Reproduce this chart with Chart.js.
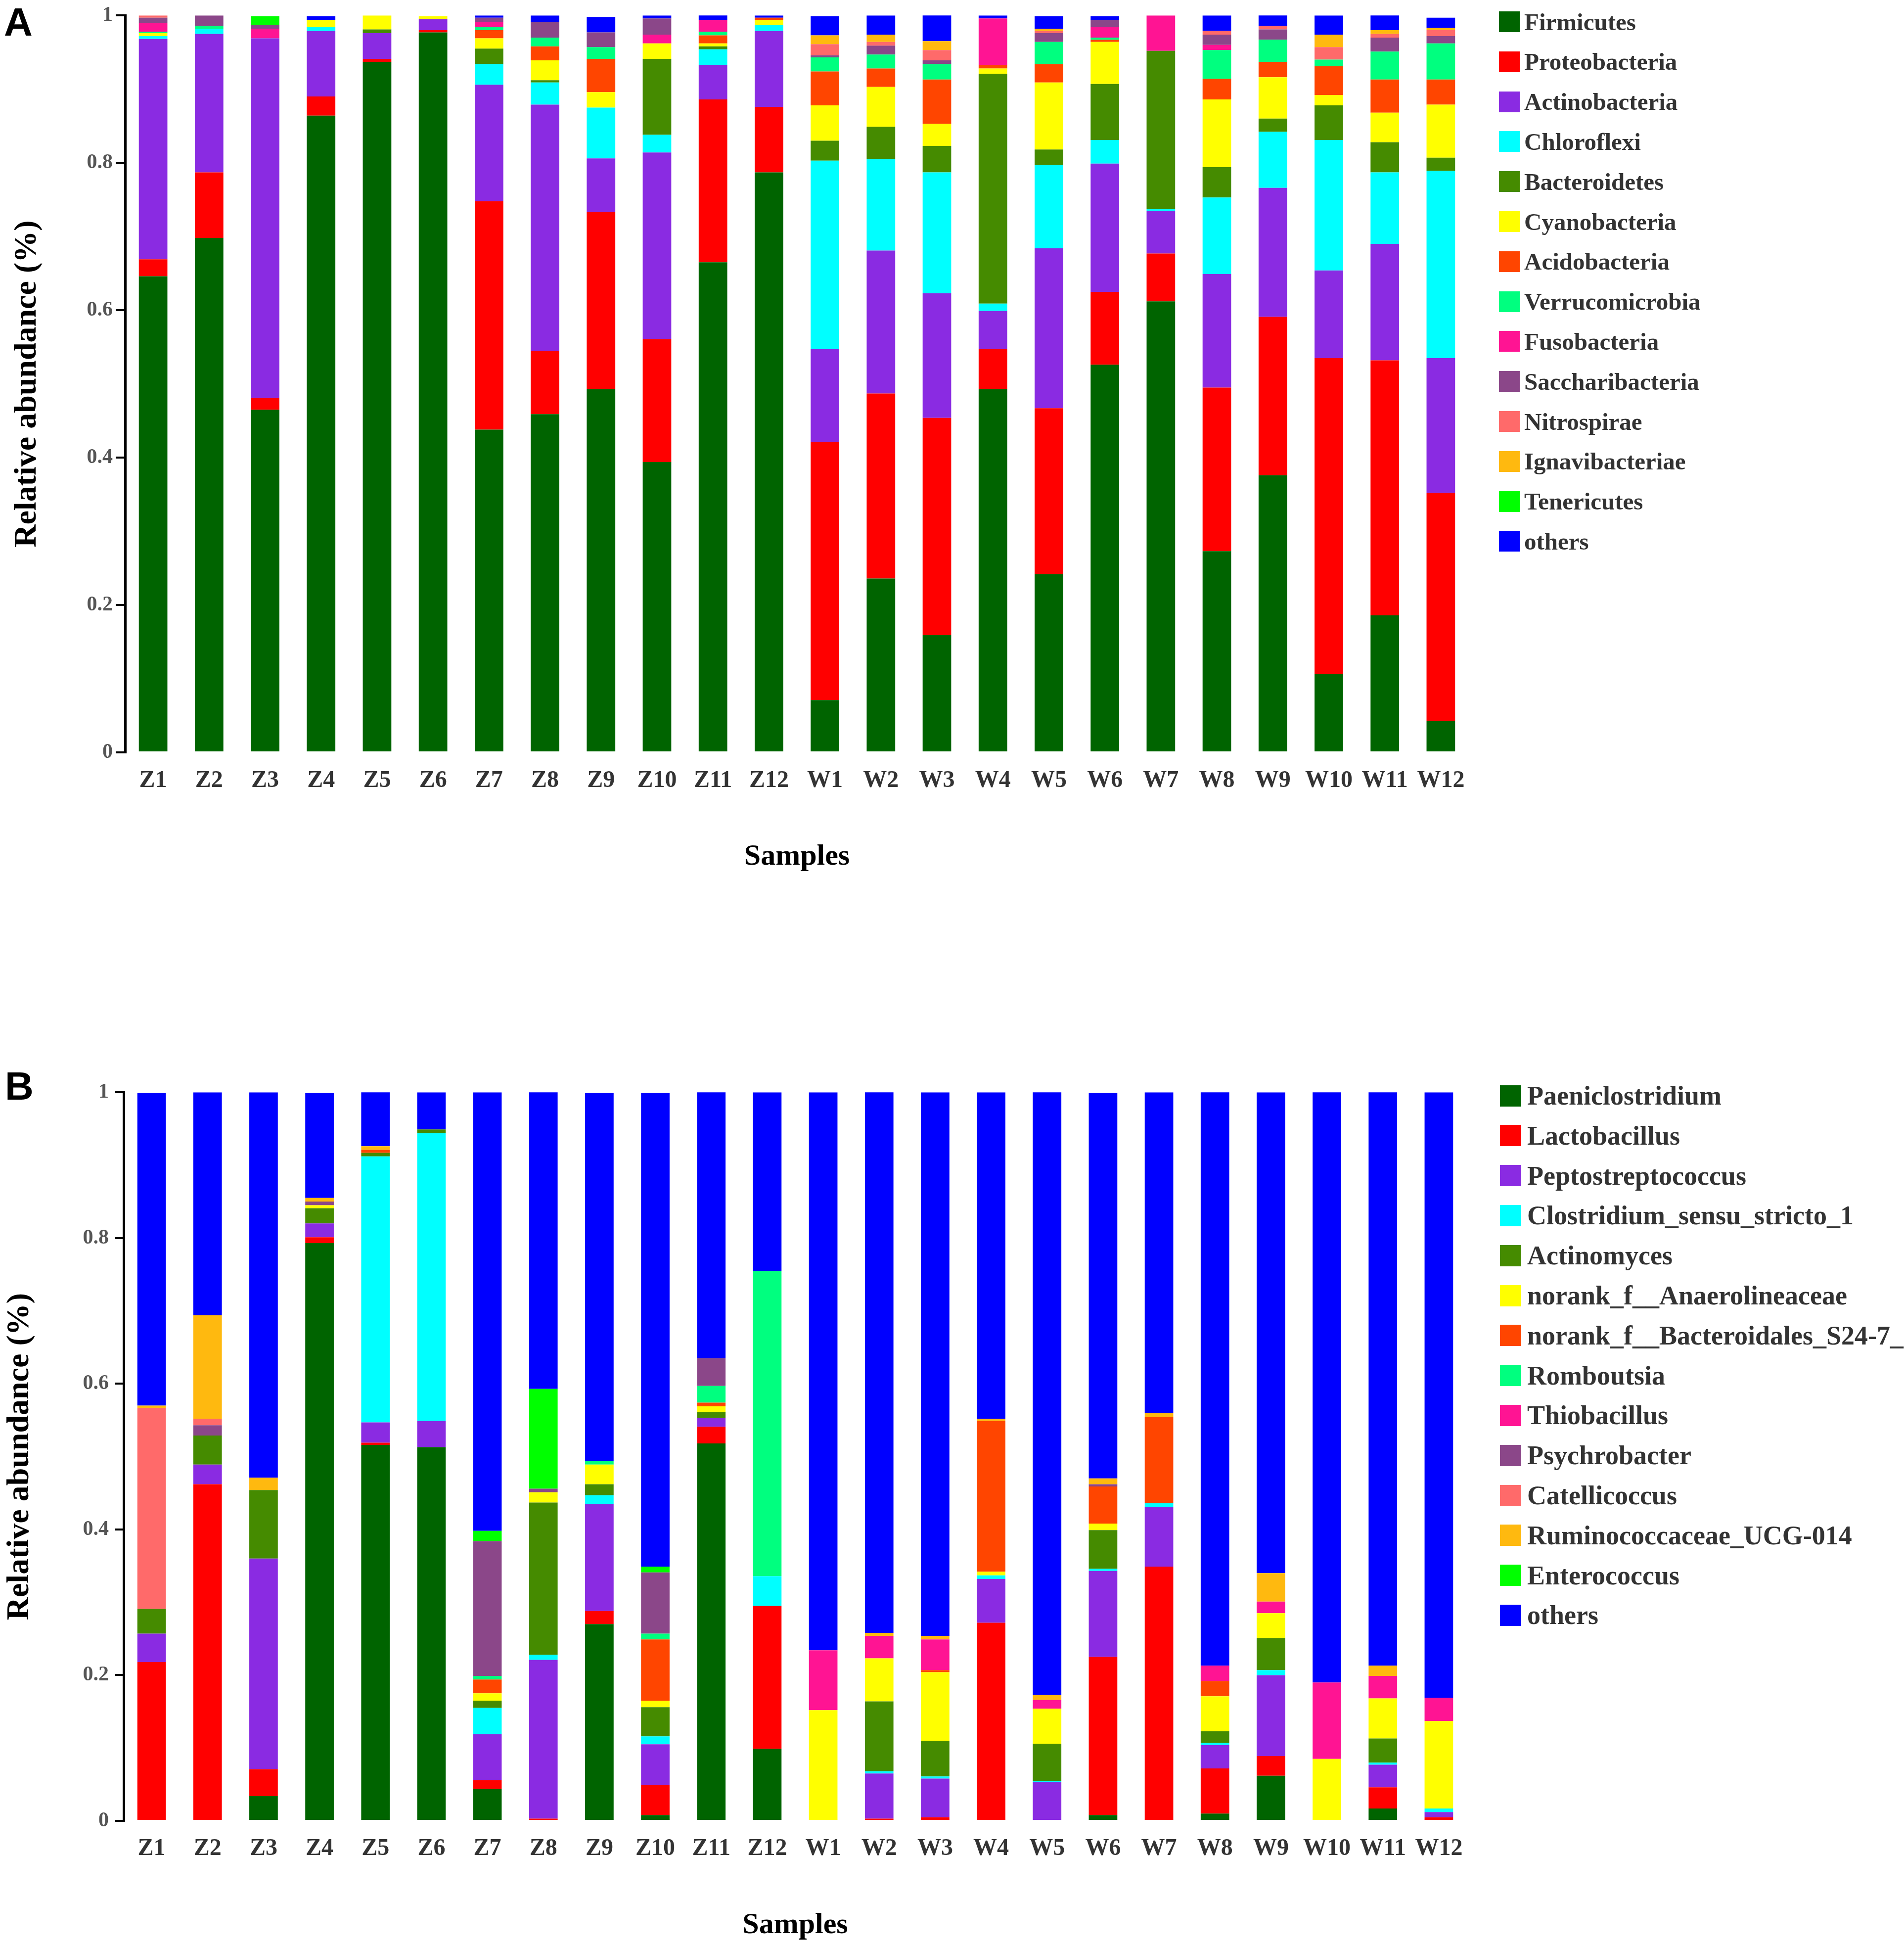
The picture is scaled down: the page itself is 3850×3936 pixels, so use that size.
<!DOCTYPE html>
<html>
<head>
<meta charset="utf-8">
<script src="https://cdn.jsdelivr.net/npm/chart.js@4.4.1/dist/chart.umd.min.js"></script>
<style>
body { margin:0; width:3850px; height:3936px; background:#fff; overflow:hidden; position:relative; }
canvas { position:absolute; left:0; }
.tag { position:absolute; font: bold 80px "Liberation Sans", Arial, sans-serif; line-height:80px; color:#000; }
.legend { position:absolute; font-family:"Liberation Serif","Times New Roman",serif; font-weight:bold; color:#333; white-space:nowrap; }
.legend .row { position:absolute; left:0; height:80px; display:flex; align-items:center; }
.legend .box { display:inline-block; }
</style>
</head>
<body>
<div class="tag" style="left:8px;top:5px">A</div>
<div class="tag" style="left:10px;top:2156px">B</div>
<canvas id="chartA" width="3000" height="1820" style="top:0;width:3000px;height:1820px"></canvas>
<canvas id="chartB" width="3000" height="1766" style="top:2170px;width:3000px;height:1766px"></canvas>
<div class="legend" id="legendA" style="left:3031px;top:4px"></div>
<div class="legend" id="legendB" style="left:3033px;top:2175px"></div>
<script>
const samples = ['Z1','Z2','Z3','Z4','Z5','Z6','Z7','Z8','Z9','Z10','Z11','Z12',
                 'W1','W2','W3','W4','W5','W6','W7','W8','W9','W10','W11','W12'];

// panel A - phylum level
const firmicutes      = [.646,.698,.465,.864,.937,.977,.438,.459,.493,.394,.665,.787, .071,.236,.159,.493,.242,.526,.612,.273,.376,.106,.186,.043];
const proteobacteria  = [.023,.089,.016,.026,.004,.003,.310,.086,.240,.167,.221,.089, .350,.251,.295,.054,.225,.099,.065,.222,.215,.429,.346,.309];
const actinobacteria  = [.299,.188,.488,.089,.035,.015,.158,.334,.073,.253,.047,.103, .126,.194,.169,.052,.217,.174,.058,.154,.175,.119,.158,.183];
const chloroflexi     = [.004,.007,0,.005,0,0,.028,.030,.069,.024,.021,.008, .256,.124,.164,.010,.113,.032,.002,.104,.076,.177,.097,.254];
const bacteroidetes   = [0,0,0,0,.005,0,.021,.003,0,.103,.004,0, .027,.044,.036,.312,.021,.076,.215,.041,.018,.047,.041,.018];
const cyanobacteria   = [.004,0,0,.010,.019,.004,.014,.027,.021,.021,.004,.007, .048,.054,.030,.007,.091,.057,0,.092,.056,.014,.040,.072];
const acidobacteria   = [0,0,0,0,0,0,.011,.019,.045,0,.011,.003, .046,.025,.060,.005,.025,.003,0,.028,.021,.039,.045,.034];
const verrucomicrobia = [.002,.004,0,0,0,0,.004,.012,.016,0,.005,0, .019,.019,.021,0,.030,.003,0,.039,.030,.009,.038,.049];
const fusobacteria    = [.012,0,.013,0,0,0,.007,0,0,.012,.016,0, 0,0,0,.063,0,.014,.048,.007,0,0,0,0];
const saccharibacteria= [.007,.014,.005,0,0,0,.006,.021,.020,.022,0,0, .003,.012,.005,0,.012,.010,0,.014,.014,0,.019,.010];
const nitrospirae     = [.003,0,0,0,0,0,0,0,0,0,0,0, .015,.005,.014,0,.003,0,0,.005,.005,.017,.005,.008];
const ignavibacteriae = [0,0,0,0,0,0,0,0,0,0,0,0, .012,.010,.012,0,.003,0,0,0,0,.017,.005,.003];
const tenericutes     = [0,0,.012,0,0,0,0,0,0,0,0,0, 0,0,0,0,0,0,0,0,0,0,0,0];
const othersA         = [0,0,0,.005,0,0,.003,.009,.021,.004,.007,.003, .026,.026,.036,.004,.017,.005,0,.021,.016,.026,.021,.014];

// panel B - genus level
const paeniclostridium = [0,0,.034,.793,.516,.513,.044,0,.270,.008,.518,.099, 0,0,0,0,0,.008,0,.010,.062,0,.017,0];
const lactobacillus    = [.218,.462,.037,.008,.003,0,.012,.003,.018,.041,.023,.196, 0,.003,.005,.272,0,.217,.349,.062,.027,0,.029,.005];
const peptostrepto     = [.039,.027,.289,.019,.028,.036,.063,.218,.147,.056,.012,0, 0,.062,.053,.060,.053,.118,.082,.032,.111,0,.031,.007];
const clostridiumSS1   = [0,0,0,0,.365,.395,.036,.007,.012,.011,0,.041, 0,.003,.003,.005,.002,.003,.005,.003,.007,0,.003,.005];
const actinomyces      = [.034,.040,.094,.021,.005,.005,.010,.209,.015,.040,.008,0, 0,.096,.049,0,.051,.053,0,.016,.044,0,.033,0];
const anaerolineaceae  = [0,0,0,.004,0,0,.010,.014,.027,.009,.008,0, .152,.059,.094,.005,.048,.009,0,.048,.034,.085,.055,.120];
const bacteroidalesS24 = [0,0,0,0,.004,0,.019,0,0,.084,.005,0, 0,0,.003,.207,0,.051,.118,.021,0,0,0,0];
const romboutsia       = [0,0,0,0,0,0,.005,0,.005,.008,.023,.419, 0,0,0,0,0,0,0,0,0,0,0,0];
const thiobacillus     = [0,0,0,0,0,0,0,0,0,0,0,0, .082,.031,.042,0,.012,0,0,.021,.016,.105,.031,.032];
const psychrobacter    = [0,.014,0,.005,0,0,.185,.005,0,.084,.038,0, 0,0,0,0,0,.003,0,0,0,0,0,0];
const catellicoccus    = [.276,.009,0,0,0,0,0,0,0,0,0,0, 0,0,0,0,0,0,0,0,0,0,0,0];
const ruminococcaceae  = [.003,.142,.017,.005,.005,0,0,0,0,0,0,0, 0,.004,.005,.003,.007,.008,.006,0,.039,0,.014,0];
const enterococcus     = [0,0,0,0,0,0,.014,.137,0,.008,0,0, 0,0,0,0,0,0,0,0,0,0,0,0];
const othersB          = [.429,.306,.529,.144,.075,.051,.602,.408,.505,.650,.367,.245, .766,.743,.746,.448,.828,.529,.440,.788,.660,.811,.788,.831];

const namesA = ['Firmicutes','Proteobacteria','Actinobacteria','Chloroflexi','Bacteroidetes','Cyanobacteria',
  'Acidobacteria','Verrucomicrobia','Fusobacteria','Saccharibacteria','Nitrospirae','Ignavibacteriae','Tenericutes','others'];
const seriesA = [firmicutes, proteobacteria, actinobacteria, chloroflexi, bacteroidetes, cyanobacteria,
  acidobacteria, verrucomicrobia, fusobacteria, saccharibacteria, nitrospirae, ignavibacteriae, tenericutes, othersA];

const namesB = ['Paeniclostridium','Lactobacillus','Peptostreptococcus','Clostridium_sensu_stricto_1','Actinomyces',
  'norank_f__Anaerolineaceae','norank_f__Bacteroidales_S24-7_','Romboutsia','Thiobacillus','Psychrobacter',
  'Catellicoccus','Ruminococcaceae_UCG-014','Enterococcus','others'];
const seriesB = [paeniclostridium, lactobacillus, peptostrepto, clostridiumSS1, actinomyces, anaerolineaceae,
  bacteroidalesS24, romboutsia, thiobacillus, psychrobacter, catellicoccus, ruminococcaceae, enterococcus, othersB];

const palette = ['#006400','#ff0000','#8a2be2','#00ffff','#458b00','#ffff00','#ff4500',
  '#00ff7f','#ff1493','#8b4789','#ff6a6a','#ffb90f','#00ff00','#0000ff'];

const serif = '"Liberation Serif", "Times New Roman", serif';

function makeChart(id, names, series, cfg) {
    const datasets = names.map((name, i) => ({
        label: name,
        data: series[i],
        backgroundColor: palette[i],
        borderWidth: 0,
        barPercentage: 0.51,
        categoryPercentage: 1
    }));
    return new Chart(document.getElementById(id), {
        type: 'bar',
        data: { labels: samples, datasets: datasets },
        options: {
            responsive: false,
            animation: false,
            devicePixelRatio: 1,
            layout: { padding: cfg.padding },
            plugins: { legend: { display: false }, tooltip: { enabled: false } },
            scales: {
                x: {
                    stacked: true,
                    grid: { display: false, drawTicks: false },
                    border: { display: false },
                    ticks: { color: '#333', padding: cfg.xTickPad, autoSkip: false, maxRotation: 0,
                             font: { family: serif, weight: 'bold', size: 48 } },
                    title: { display: true, text: 'Samples', color: '#000',
                             font: { family: serif, weight: 'bold', size: 60 },
                             padding: { top: 0, bottom: cfg.xTitlePad } },
                    afterFit: s => { s.height = cfg.xHeight; }
                },
                y: {
                    stacked: true,
                    min: 0,
                    max: 1,
                    ticks: { stepSize: 0.2, color: '#555', padding: cfg.yTickPad,
                             callback: v => String(Number(v.toFixed(1))),
                             font: { family: serif, weight: 'bold', size: 42 } },
                    grid: { drawOnChartArea: false, drawTicks: true, tickLength: cfg.tickLen, color: '#000', lineWidth: 4 },
                    border: { display: true, color: '#000', width: 5 },
                    title: { display: true, text: 'Relative abundance (%)', color: '#000',
                             font: { family: serif, weight: 'bold', size: 64 },
                             padding: { top: cfg.yTitlePad, bottom: 0 } },
                    afterFit: s => { s.width = cfg.yWidth; }
                }
            }
        }
    });
}

function buildLegend(id, names, box, fontSize, gap) {
    const el = document.getElementById(id);
    el.style.fontSize = fontSize + 'px';
    names.forEach((name, i) => {
        const row = document.createElement('div');
        row.className = 'row';
        row.style.top = (i * 80.8) + 'px';
        const sq = document.createElement('span');
        sq.className = 'box';
        sq.style.width = box + 'px';
        sq.style.height = box + 'px';
        sq.style.background = palette[i];
        sq.style.marginRight = gap + 'px';
        const txt = document.createElement('span');
        txt.textContent = name;
        row.appendChild(sq);
        row.appendChild(txt);
        el.appendChild(row);
    });
}

makeChart('chartA', namesA, seriesA, {
    padding: { left: 0, right: 30, top: 27, bottom: 0 },
    yWidth: 253, xHeight: 299, xTickPad: 29, xTitlePad: 52,
    yTickPad: 6, tickLen: 19, yTitlePad: 17
});
makeChart('chartB', namesB, seriesB, {
    padding: { left: 0, right: 34, top: 30, bottom: 0 },
    yWidth: 250, xHeight: 255, xTickPad: 28, xTitlePad: 8,
    yTickPad: 13, tickLen: 17, yTitlePad: 2
});

buildLegend('legendA', namesA, 42, 49, 9);
buildLegend('legendB', namesB, 43, 54, 12);
</script>
</body>
</html>
